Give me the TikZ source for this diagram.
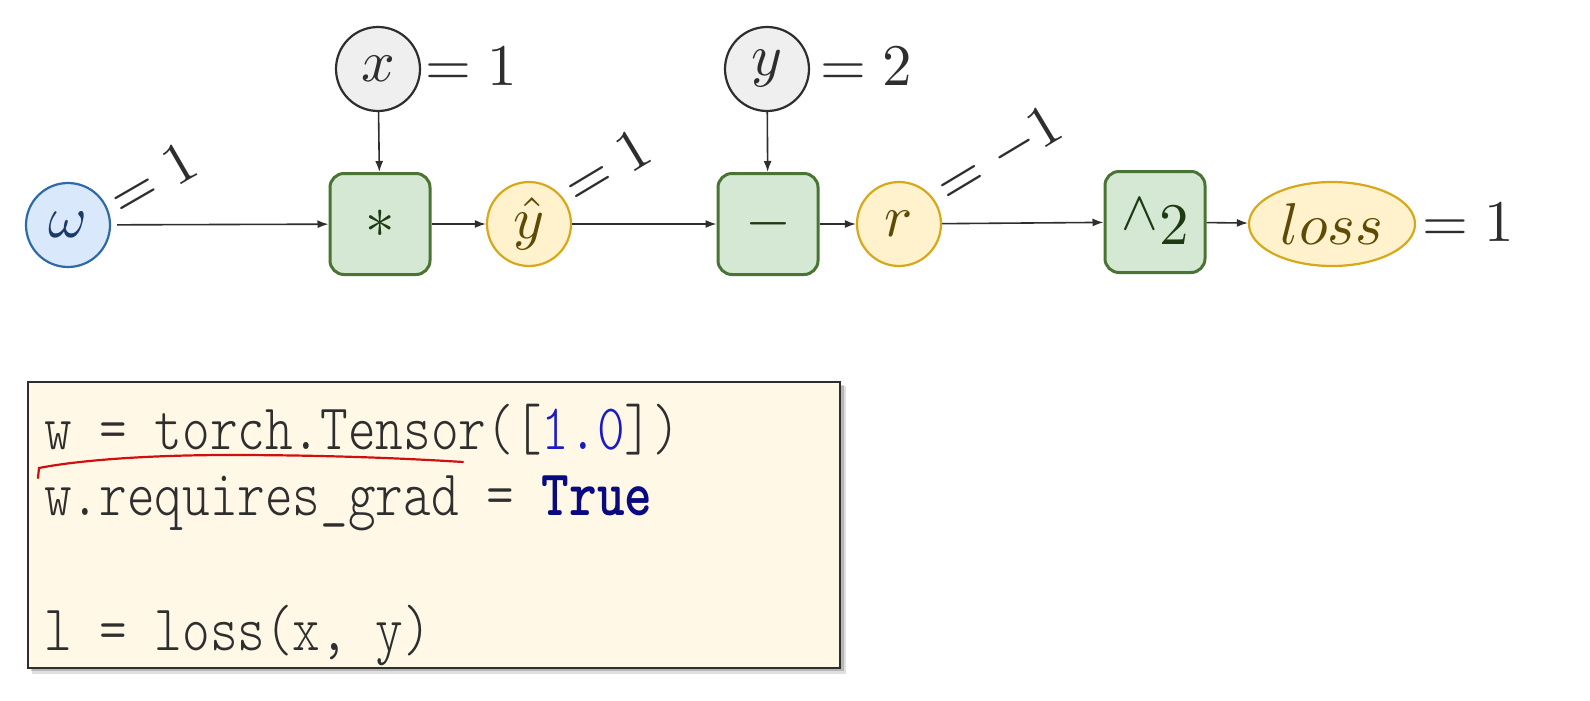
\documentclass[tikz,border=0pt]{standalone}
\usepackage{fontspec}
\setmonofont{lmmonolt10-regular.otf}[FakeStretch=0.81,BoldFont=lmmonolt10-bold.otf]
\usetikzlibrary{arrows.meta,shapes.geometric}
\definecolor{blueF}{HTML}{DAE8FC}
\definecolor{blueD}{HTML}{2F6AA8}
\definecolor{blueT}{HTML}{1B3A66}
\definecolor{yelF}{HTML}{FFF2CC}
\definecolor{yelD}{HTML}{D6A81A}
\definecolor{yelT}{HTML}{5E4A05}
\definecolor{grnF}{HTML}{D5E8D4}
\definecolor{grnD}{HTML}{4A7434}
\definecolor{grnT}{HTML}{1E3A12}
\definecolor{gryF}{HTML}{EFEFEF}
\definecolor{ink}{HTML}{2E2E2E}
\definecolor{codeF}{HTML}{FFF8E6}
\definecolor{numB}{HTML}{1A1AC8}
\definecolor{kwB}{HTML}{0A0A80}
\definecolor{penR}{HTML}{D01010}
\newcommand{\bigsz}{\fontsize{59}{62}\selectfont}
\newcommand{\codesz}{\fontsize{65}{68}\selectfont}
\newcommand{\bmath}[1]{\scalebox{5.9}{\fontsize{10}{12}\selectfont$#1$}}
\newcommand{\caretsym}{\raisebox{15pt}{\scalebox{5.5}{\fontsize{10}{12}\selectfont$\wedge$}}}
\begin{document}
\begin{tikzpicture}[x=1pt,y=-1pt,
  vcirc/.style={circle,minimum size=84pt,inner sep=0pt,line width=2.2pt,font=\bigsz},
  opbox/.style={rectangle,rounded corners=14pt,minimum width=100pt,minimum height=101pt,inner sep=0pt,
    line width=3pt,draw=grnD,fill=grnF,text=grnT,font=\bigsz},
  lbl/.style={inner sep=0pt,text=ink,font=\bigsz},
  arr/.style={draw=ink,line width=1.6pt,-{Latex[length=11pt,width=8pt]}},
  codeline/.style={inner sep=0pt,anchor=base west,text=ink,font=\codesz\ttfamily}]
\useasboundingbox (0,0) rectangle (1590,701);
\fill[white] (0,0) rectangle (1590,701);
% graph nodes
\node[vcirc,draw=blueD,fill=blueF,text=blueT] (w) at (68,225) {\bmath{\omega}};
\node[opbox] (mul) at (380,224) {\bmath{\ast}};
\node[vcirc,draw=ink,fill=gryF,text=ink] (xin) at (378,69) {\bmath{x}};
\node[vcirc,draw=yelD,fill=yelF,text=yelT] (yhat) at (529,224) {\bmath{\hat{y}}};
\node[opbox] (sub) at (768,224) {\bmath{-}};
\node[vcirc,draw=ink,fill=gryF,text=ink] (yin) at (767,69) {\bmath{y}};
\node[vcirc,draw=yelD,fill=yelF,text=yelT] (r) at (899,224) {\bmath{r}};
\node[opbox] (sq) at (1155,222) {\caretsym\kern1pt\bmath{2}};
\node[ellipse,minimum width=166pt,minimum height=84pt,inner sep=0pt,line width=2.2pt,
  draw=yelD,fill=yelF,text=yelT,font=\bigsz] (loss) at (1332,224) {\bmath{loss}};
% value labels
\node[lbl,anchor=base west] (xval) at (425,85) {\bmath{=1}};
\node[lbl,anchor=base west] (yval) at (820,85) {\bmath{=2}};
\node[lbl,anchor=base west] (lval) at (1422,241) {\bmath{=1}};
\node[lbl,anchor=base west,rotate=30] (wval) at (122,219) {\bmath{=1}};
\node[lbl,anchor=base west,rotate=31] (yhval) at (577,207) {\bmath{=1}};
\node[lbl,anchor=base west,rotate=31] (rval) at (949,206) {\bmath{=-1}};
% connectors
\draw[arr,shorten <=6pt] (w) -- (mul);
\draw[arr] (xin) -- (mul);
\draw[arr] (mul) -- (yhat);
\draw[arr] (yhat) -- (sub);
\draw[arr] (yin) -- (sub);
\draw[arr] (sub) -- (r);
\draw[arr] (r) -- (sq);
\draw[arr] (sq) -- (loss);
% code box
\fill[black,opacity=0.12] (32,386) rectangle (846,674);
\fill[black,opacity=0.18] (31,385) rectangle (844,671);
\draw[line width=2pt,draw=ink,fill=codeF] (28,382) rectangle (840,668);
\node[codeline] (c1) at (44,449) {w = torch.Tensor([\textcolor{numB}{1.0}])};
\node[codeline] (c2) at (44,515) {w.requires\_grad = \textcolor{kwB}{\textbf{True}}};
\node[codeline] (c3) at (44,650) {l = loss(x, y)};
\draw[penR,line width=2.2pt,line cap=round] (38,478) -- (39,468)
  .. controls (80,460) and (150,455) .. (230,455)
  .. controls (320,455) and (400,458) .. (463,462);
\end{tikzpicture}
\end{document}
